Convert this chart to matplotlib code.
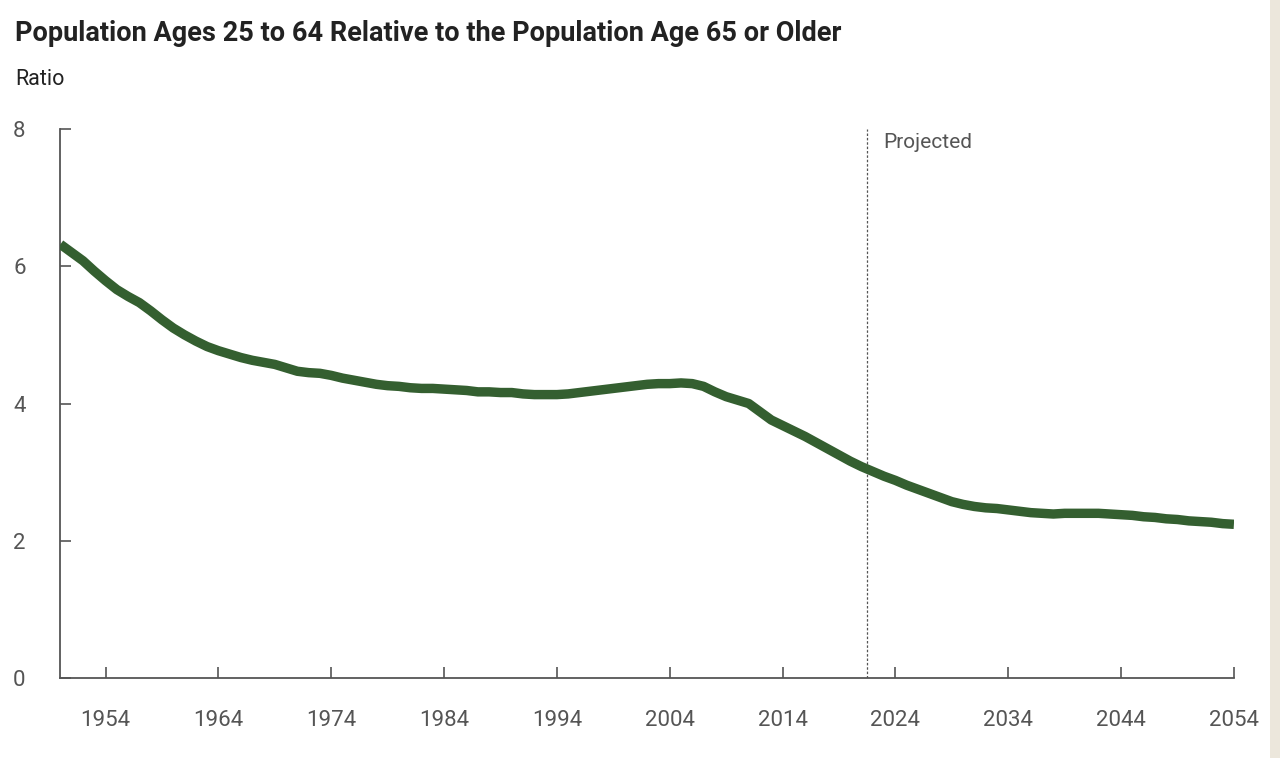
import matplotlib.pyplot as plt
from matplotlib.patches import Rectangle

# ratio of population ages 25-64 to population 65+
years = list(range(1950, 2055))
ratio = [
    6.32, 6.20, 6.08, 5.93, 5.79, 5.66, 5.56, 5.47, 5.35, 5.22,
    5.10, 5.00, 4.91, 4.83, 4.77, 4.72, 4.67, 4.63, 4.60, 4.57,
    4.52, 4.47, 4.45, 4.44, 4.41, 4.37, 4.34, 4.31, 4.28, 4.26,
    4.25, 4.23, 4.22, 4.22, 4.21, 4.20, 4.19, 4.17, 4.17, 4.16,
    4.16, 4.14, 4.13, 4.13, 4.13, 4.14, 4.16, 4.18, 4.20, 4.22,
    4.24, 4.26, 4.28, 4.29, 4.29, 4.30, 4.29, 4.25, 4.17, 4.10,
    4.05, 4.00, 3.88, 3.76, 3.68, 3.60, 3.52, 3.43, 3.34, 3.25,
    3.16, 3.08, 3.01, 2.94, 2.88, 2.81, 2.75, 2.69, 2.63, 2.57,
    2.53, 2.50, 2.48, 2.47, 2.45, 2.43, 2.41, 2.40, 2.39, 2.40,
    2.40, 2.40, 2.40, 2.39, 2.38, 2.37, 2.35, 2.34, 2.32, 2.31,
    2.29, 2.28, 2.27, 2.25, 2.24,
]
x_ticks = [1954, 1964, 1974, 1984, 1994, 2004, 2014, 2024, 2034, 2044, 2054]
y_ticks = [0, 2, 4, 6, 8]
projection_start = 2021.5

plt.rcParams['font.family'] = ['Roboto', 'DejaVu Sans']
gray = '#555555'

fig = plt.figure(figsize=(12.8, 7.58), dpi=100)
ax = fig.add_axes([0.0472, 0.1055, 0.9168, 0.7243])

ax.plot(years, ratio, color='#345f30', linewidth=6.8, solid_capstyle='butt', zorder=3)
ax.axvline(projection_start, color=gray, linestyle=(0, (2, 1.5)), linewidth=0.9, zorder=2)
ax.text(projection_start + 1.4, 7.8, 'Projected', fontsize=15, color=gray, va='center', ha='left')

ax.set_xlim(1950, 2054)
ax.set_ylim(0, 8)
ax.set_xticks(x_ticks)
ax.set_yticks(y_ticks)
ax.tick_params(axis='both', direction='in', length=8, width=1.2, color=gray, labelcolor=gray, labelsize=16)
ax.tick_params(axis='y', pad=25)
ax.tick_params(axis='x', pad=23)

for s in ['top', 'right']:
    ax.spines[s].set_visible(False)
for s in ['left', 'bottom']:
    ax.spines[s].set_color(gray)
    ax.spines[s].set_linewidth(1.3)

fig.text(0.012, 0.956, 'Population Ages 25 to 64 Relative to the Population Age 65 or Older',
         fontsize=19.5, fontweight='bold', color='#222222', va='center', ha='left')
fig.text(0.012, 0.895, 'Ratio', fontsize=15.5, color='#222222', va='center', ha='left')

# thin beige strip along the right edge
fig.patches.append(Rectangle((0.992, 0), 0.008, 1, transform=fig.transFigure,
                             facecolor='#ece7dc', edgecolor='none'))

fig.savefig('out.png', dpi=100)
